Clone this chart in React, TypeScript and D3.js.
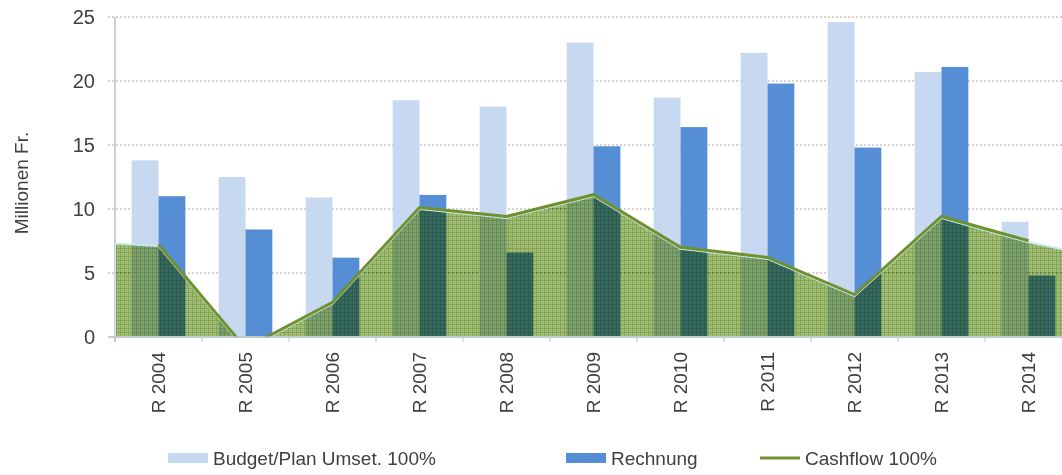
import React from "react";
import * as d3 from "d3";

const categories = ["R 2004", "R 2005", "R 2006", "R 2007", "R 2008", "R 2009", "R 2010", "R 2011", "R 2012", "R 2013", "R 2014"];
const budget = [13.8, 12.5, 10.9, 18.5, 18.0, 23.0, 18.7, 22.2, 24.6, 20.7, 9.0];
const rechnung = [11.0, 8.4, 6.2, 11.1, 6.6, 14.9, 16.4, 19.8, 14.8, 21.1, 4.8];
const cashflow = [7.1, -1.0, 2.6, 10.0, 9.3, 11.0, 6.9, 6.1, 3.2, 9.3, 7.4];
const areaStart = 7.3;
const areaEnd = 6.7;
const yTicks = [0, 5, 10, 15, 20, 25];
const seriesNames = ["Budget/Plan Umset. 100%", "Rechnung", "Cashflow 100%"];

const W = 1062;
const H = 475;
const COL_BUDGET = "#c6d9f1";
const COL_RECH = "#558ed5";
const COL_LINE = "#71902f";
const FONT = "'Liberation Sans', Arial, sans-serif";
const TXT = "#404040";

export default function App() {
  const x = d3.scaleBand<string>().domain(categories).range([115, 1072]).paddingInner(0).paddingOuter(0);
  const xi = d3.scaleBand<string>().domain(["b", "r"]).range([0, x.bandwidth()]).paddingInner(0).paddingOuter(0.62);
  const y = d3.scaleLinear().domain([0, 25]).range([337, 17]);
  const [x0, x1] = x.range();
  const cx = (c: string) => (x(c) as number) + x.bandwidth() / 2;

  const areaPts: [number, number][] = [
    [x0, areaStart],
    ...categories.map((c, i) => [cx(c), cashflow[i]] as [number, number]),
    [x1, areaEnd],
  ];
  const areaGen = d3.area<[number, number]>().x((d) => d[0]).y0(y(0)).y1((d) => y(d[1]));
  const lineGen = d3.line<[number, number]>().x((d) => d[0]).y((d) => y(d[1]));
  const linePts = categories.map((c, i) => [cx(c), cashflow[i]] as [number, number]);

  const legendY = 458;
  const legendItems = [
    { name: seriesNames[0], x: 168, type: "rect", color: COL_BUDGET },
    { name: seriesNames[1], x: 566, type: "rect", color: COL_RECH },
    { name: seriesNames[2], x: 760, type: "line", color: COL_LINE },
  ];

  return (
    <svg width={W} height={H} style={{ position: "absolute", left: 0, top: 0, display: "block", background: "#fff" }} fontFamily={FONT}>
      <defs>
        <pattern id="mesh" width="4" height="4" patternUnits="userSpaceOnUse">
          <rect width="4" height="4" fill="#a2bf76" />
          <rect x="0" y="0" width="4" height="1" fill="#84a357" />
          <rect x="0" y="0" width="1" height="4" fill="#84a357" />
          <rect x="2" y="2" width="1" height="1" fill="#90ae64" />
        </pattern>
        <clipPath id="plotClip">
          <rect x={x0} y={0} width={x1 - x0} height={y(0) + 0.5} />
        </clipPath>
      </defs>

      {/* gridlines */}
      {yTicks.filter((t) => t > 0).map((t) => (
        <line key={t} x1={108} x2={W} y1={y(t)} y2={y(t)} stroke="#a6a6a6" strokeWidth={1} strokeDasharray="2,2" />
      ))}

      {/* y axis */}
      <line x1={x0} x2={x0} y1={y(25)} y2={y(0) + 5} stroke="#bfbfbf" strokeWidth={1.5} />
      {yTicks.map((t) => (
        <text key={t} x={95} y={y(t)} dy="0.36em" textAnchor="end" fontSize={20} fill={TXT}>{t}</text>
      ))}
      <text transform={`translate(28,183) rotate(-90)`} textAnchor="middle" fontSize={19} fill={TXT}>Millionen Fr.</text>

      {/* bars */}
      {categories.map((c, i) => (
        <g key={c} transform={`translate(${x(c)},0)`}>
          <rect x={xi("b")} width={xi.bandwidth()} y={y(budget[i])} height={y(0) - y(budget[i])} fill={COL_BUDGET} />
          <rect x={xi("r")} width={xi.bandwidth()} y={y(rechnung[i])} height={y(0) - y(rechnung[i])} fill={COL_RECH} />
        </g>
      ))}

      {/* cashflow area (multiplied over bars) */}
      <g clipPath="url(#plotClip)" style={{ mixBlendMode: "multiply" }}>
        <path d={areaGen(areaPts) || ""} fill="url(#mesh)" />
      </g>
      <g clipPath="url(#plotClip)">
        <path d={areaGen(areaPts) || ""} fill="none" stroke="#c4ecee" strokeWidth={2} />
        <path d={lineGen(linePts) || ""} fill="none" stroke={COL_LINE} strokeWidth={3} transform="translate(0,-1.5)" />
      </g>

      {/* x axis */}
      <line x1={108} x2={W} y1={y(0)} y2={y(0)} stroke="#bfbfbf" strokeWidth={1.5} />
      {categories.map((c) => (
        <line key={"t" + c} x1={x(c)} x2={x(c)} y1={y(0)} y2={y(0) + 5} stroke="#bfbfbf" strokeWidth={1} />
      ))}
      {categories.map((c) => (
        <text key={"l" + c} transform={`translate(${cx(c) + 6},352) rotate(-90)`} textAnchor="end" fontSize={19} fill={TXT}>{c}</text>
      ))}

      {/* legend */}
      {legendItems.map((it) => (
        <g key={it.name}>
          {it.type === "rect" ? (
            <rect x={it.x} y={legendY - 5} width={40} height={10} fill={it.color} />
          ) : (
            <line x1={it.x} x2={it.x + 40} y1={legendY} y2={legendY} stroke={it.color} strokeWidth={3} />
          )}
          <text x={it.x + 45} y={legendY} dy="0.36em" fontSize={19} fill={TXT}>{it.name}</text>
        </g>
      ))}
    </svg>
  );
}
